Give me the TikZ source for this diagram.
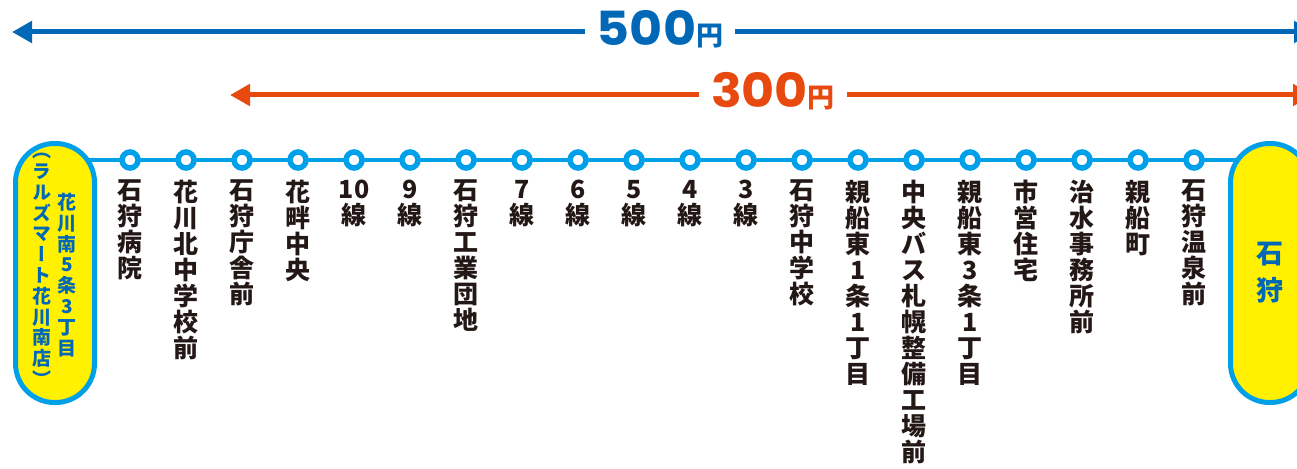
\documentclass[tikz,border=0pt]{standalone}
\usepackage{fontspec}
\setmainfont{Noto Sans CJK JP}
\newfontfamily\jp{Noto Sans CJK JP}
\newfontfamily\jpv{Noto Sans CJK JP}[RawFeature=+vert]
\newfontfamily\pop{Poppins}
\usetikzlibrary{arrows.meta,backgrounds}
\definecolor{fareblue}{HTML}{0068B7}
\definecolor{fareorange}{HTML}{E8490F}
\definecolor{routecyan}{HTML}{00A0E9}
\definecolor{termyellow}{HTML}{FFF100}
\definecolor{ink}{HTML}{231815}
\lineskiplimit=-100pt
\begin{document}
\begin{tikzpicture}[x=1pt,y=-1pt,
  stn/.style={anchor=north, inner sep=0pt, align=center, text=ink, font=\jp\bfseries\fontsize{25}{26}\selectfont,
    execute at begin node={\rule{0pt}{21pt}}},
  stop/.style={circle, draw=routecyan, fill=white, line width=5.5pt, minimum size=16pt, inner sep=0pt},
  term/.style={draw=routecyan, fill=termyellow, line width=5pt, rounded corners=39pt, minimum width=79pt, minimum height=259pt, inner sep=0pt},
  termtext/.style={anchor=north, inner sep=0pt, align=center, text=fareblue, execute at begin node={\rule{0pt}{16pt}}},
  route/.style={draw=routecyan, line width=4.5pt},
  fare/.style={line width=5pt, {Triangle[length=20pt,width=21pt]}-{Triangle[length=20pt,width=21pt]}},
  farelabel/.style={fill=white, inner xsep=12pt, inner ysep=3pt, anchor=base}]
\useasboundingbox (0,0) rectangle (1297,468);

% fare arrows
\coordinate (b1) at (12,32);
\coordinate (b2) at (1314,32);
\draw[fare, fareblue] (b1) -- (b2);
\node[farelabel, text=fareblue] (p500) at (660,46)
  {\pop\bfseries\fontsize{47}{47}\selectfont\scalebox{1.08}[1]{500}\jp\bfseries\fontsize{27}{27}\selectfont 円};
\coordinate (o1) at (230,95);
\coordinate (o2) at (1313,95);
\draw[fare, fareorange] (o1) -- (o2);
\node[farelabel, text=fareorange] (p300) at (773,108)
  {\pop\bfseries\fontsize{47}{47}\selectfont\scalebox{1.08}[1]{300}\jp\bfseries\fontsize{27}{27}\selectfont 円};

% terminals
\node[term] (Lbox) at (55,273) {};
\node[term, align=center, text=fareblue, font=\jp\bfseries\fontsize{27}{37}\selectfont] (Rbox) at (1270,273) {石\\狩};
\node[termtext, font=\jp\bfseries\fontsize{19}{20.8}\selectfont] (Lname) at (67,193) {花\\川\\南\\5\\条\\3\\丁\\目};
\node[termtext, font=\jpv\bfseries\fontsize{19}{20.8}\selectfont] (Lsub) at (42,153) {（\\ラ\\ル\\ズ\\マ\\ー\\ト\\花\\川\\南\\店\\）};

% stops
\node[stop] (c1) at (130,160) {};
\node[stop] (c2) at (186,160) {};
\node[stop] (c3) at (242,160) {};
\node[stop] (c4) at (298,160) {};
\node[stop] (c5) at (354,160) {};
\node[stop] (c6) at (410,160) {};
\node[stop] (c7) at (466,160) {};
\node[stop] (c8) at (522,160) {};
\node[stop] (c9) at (578,160) {};
\node[stop] (c10) at (634,160) {};
\node[stop] (c11) at (690,160) {};
\node[stop] (c12) at (746,160) {};
\node[stop] (c13) at (802,160) {};
\node[stop] (c14) at (858,160) {};
\node[stop] (c15) at (914,160) {};
\node[stop] (c16) at (970,160) {};
\node[stop] (c17) at (1026,160) {};
\node[stop] (c18) at (1082,160) {};
\node[stop] (c19) at (1138,160) {};
\node[stop] (c20) at (1194,160) {};

\begin{pgfonlayer}{background}
\draw[route] (Lbox.center |- c1) -- (Rbox.center |- c1);
\end{pgfonlayer}

% station names
\node[stn] (n1) at (130,180) {石\\狩\\病\\院};
\node[stn] (n2) at (186,180) {花\\川\\北\\中\\学\\校\\前};
\node[stn] (n3) at (242,180) {石\\狩\\庁\\舎\\前};
\node[stn] (n4) at (298,180) {花\\畔\\中\\央};
\node[stn] (n5) at (354,180) {10\\線};
\node[stn] (n6) at (410,180) {9\\線};
\node[stn] (n7) at (466,180) {石\\狩\\工\\業\\団\\地};
\node[stn] (n8) at (522,180) {7\\線};
\node[stn] (n9) at (578,180) {6\\線};
\node[stn] (n10) at (634,180) {5\\線};
\node[stn] (n11) at (690,180) {4\\線};
\node[stn] (n12) at (746,180) {3\\線};
\node[stn] (n13) at (802,180) {石\\狩\\中\\学\\校};
\node[stn] (n14) at (858,180) {親\\船\\東\\1\\条\\1\\丁\\目};
\node[stn] (n15) at (914,180) {中\\央\\バ\\ス\\札\\幌\\整\\備\\工\\場\\前};
\node[stn] (n16) at (970,180) {親\\船\\東\\3\\条\\1\\丁\\目};
\node[stn] (n17) at (1026,180) {市\\営\\住\\宅};
\node[stn] (n18) at (1082,180) {治\\水\\事\\務\\所\\前};
\node[stn] (n19) at (1138,180) {親\\船\\町};
\node[stn] (n20) at (1194,180) {石\\狩\\温\\泉\\前};
\end{tikzpicture}
\end{document}
